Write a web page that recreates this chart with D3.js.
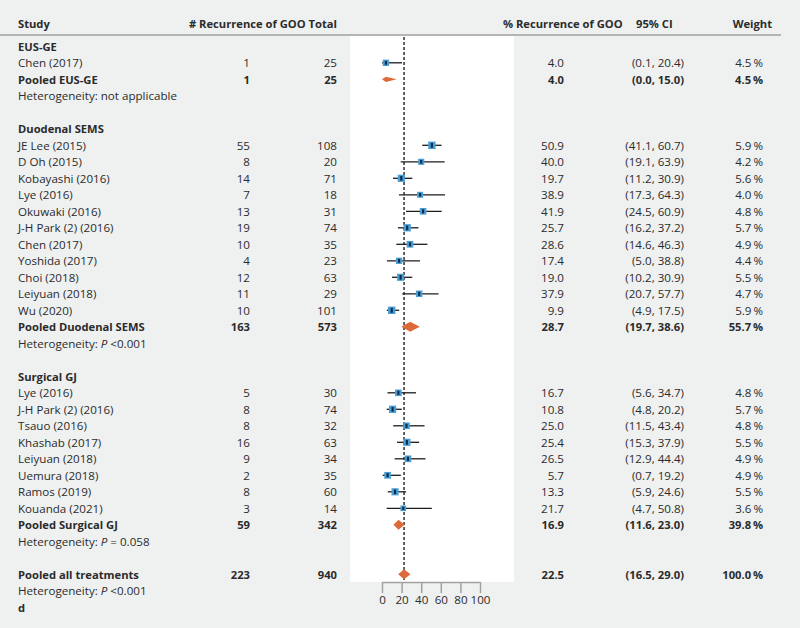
<!DOCTYPE html>
<html><head><meta charset="utf-8">
<script src="https://cdn.jsdelivr.net/npm/d3@7"></script>
<style>
html,body{margin:0;padding:0;background:#eff1f1;}
svg{display:block;font-family:"Open Sans",sans-serif;}
</style></head>
<body>
<svg id="chart" width="800" height="628"></svg>
<script>
// ---- data ----
const groupNames = ["EUS-GE", "Duodenal SEMS", "Surgical GJ"];
const studyNames = [
  ["Chen (2017)"],
  ["JE Lee (2015)","D Oh (2015)","Kobayashi (2016)","Lye (2016)","Okuwaki (2016)","J-H Park (2) (2016)","Chen (2017)","Yoshida (2017)","Choi (2018)","Leiyuan (2018)","Wu (2020)"],
  ["Lye (2016)","J-H Park (2) (2016)","Tsauo (2016)","Khashab (2017)","Leiyuan (2018)","Uemura (2018)","Ramos (2019)","Kouanda (2021)"]
];
const studyEvents = [[1],[55,8,14,7,13,19,10,4,12,11,10],[5,8,8,16,9,2,8,3]];
const studyTotals = [[25],[108,20,71,18,31,74,35,23,63,29,101],[30,74,32,63,34,35,60,14]];
const studyEst = [[4.0],[50.9,40.0,19.7,38.9,41.9,25.7,28.6,17.4,19.0,37.9,9.9],[16.7,10.8,25.0,25.4,26.5,5.7,13.3,21.7]];
const studyLow = [[0.1],[41.1,19.1,11.2,17.3,24.5,16.2,14.6,5.0,10.2,20.7,4.9],[5.6,4.8,11.5,15.3,12.9,0.7,5.9,4.7]];
const studyHigh = [[20.4],[60.7,63.9,30.9,64.3,60.9,37.2,46.3,38.8,30.9,57.7,17.5],[34.7,20.2,43.4,37.9,44.4,19.2,24.6,50.8]];
const studyWeight = [[4.5],[5.9,4.2,5.6,4.0,4.8,5.7,4.9,4.4,5.5,4.7,5.9],[4.8,5.7,4.8,5.5,4.9,4.9,5.5,3.6]];

const pooledEvents = [1, 163, 59];
const pooledTotals = [25, 573, 342];
const pooledEst = [4.0, 28.7, 16.9];
const pooledLow = [0.0, 19.7, 11.6];
const pooledHigh = [15.0, 38.6, 23.0];
const pooledWeight = [4.5, 55.7, 39.8];
const heterogeneityP = [null, "<0.001", "= 0.058"];

const overallEvents = 223, overallTotal = 940, overallEst = 22.5, overallLow = 16.5, overallHigh = 29.0, overallWeight = 100.0, overallP = "<0.001";
const xTicks = [0, 20, 40, 60, 80, 100];
const headers = ["Study", "# Recurrence of GOO Total", "% Recurrence of GOO", "95% CI", "Weight"];

// ---- build rows ----
const rows = [];
groupNames.forEach((g, gi) => {
  rows.push({type: "group", label: g});
  studyNames[gi].forEach((s, si) => rows.push({type: "study", label: s, ev: studyEvents[gi][si], n: studyTotals[gi][si],
    est: studyEst[gi][si], lo: studyLow[gi][si], hi: studyHigh[gi][si], w: studyWeight[gi][si]}));
  rows.push({type: "pooled", label: "Pooled " + g, ev: pooledEvents[gi], n: pooledTotals[gi], est: pooledEst[gi],
    lo: pooledLow[gi], hi: pooledHigh[gi], w: pooledWeight[gi]});
  rows.push({type: "het", p: heterogeneityP[gi]});
  rows.push({type: "blank"});
});
rows.push({type: "pooled", label: "Pooled all treatments", ev: overallEvents, n: overallTotal, est: overallEst, lo: overallLow, hi: overallHigh, w: overallWeight, overall: true});
rows.push({type: "het", p: overallP});
rows.push({type: "letter", label: "d"});

const svg = d3.select("#chart");
const x = d3.scaleLinear().domain([0, 100]).range([382, 480]);
const y = d3.scaleLinear().domain([0, rows.length - 1]).range([46.3, 46.3 + 16.5 * (rows.length - 1)]);

const textCol = "#2b2b2b";
const fs = "11.6px";
const fsBold = "11.2px";

// white plot panel
svg.append("rect").attr("x", 350).attr("y", 36).attr("width", 164).attr("height", 546).attr("fill", "#ffffff");

// header line
svg.append("line").attr("x1", 0).attr("x2", 781).attr("y1", 35).attr("y2", 35).attr("stroke", "#b4b6b6").attr("stroke-width", 2);

// headers
const hdr = svg.append("g").attr("font-weight", "bold").attr("font-size", fsBold).attr("fill", textCol);
hdr.append("text").attr("x", 18).attr("y", 28).text(headers[0]);
hdr.append("text").attr("x", 337).attr("y", 28).attr("text-anchor", "end").text(headers[1]);
hdr.append("text").attr("x", 503).attr("y", 28).text(headers[2]);
hdr.append("text").attr("x", 636).attr("y", 28).text(headers[3]);
hdr.append("text").attr("x", 772).attr("y", 28).attr("text-anchor", "end").text(headers[4]);

// reference line at overall estimate
svg.append("line").attr("x1", x(overallEst)).attr("x2", x(overallEst)).attr("y1", 37).attr("y2", 582)
  .attr("stroke", "#111").attr("stroke-width", 1.3).attr("stroke-dasharray", "3,2");

const fmt = d3.format(".1f");
rows.forEach((r, i) => {
  const yc = y(i), yb = yc + 4.2;
  const bold = r.type === "group" || r.type === "pooled" || r.type === "letter";
  const g = svg.append("g").attr("font-size", bold ? fsBold : fs).attr("fill", textCol).attr("font-weight", bold ? "bold" : "normal");
  if (r.type === "group" || r.type === "letter") {
    g.append("text").attr("x", 18).attr("y", yb).text(r.label);
  } else if (r.type === "het") {
    const t = g.append("text").attr("x", 18).attr("y", yb);
    if (r.p === null) t.text("Heterogeneity: not applicable");
    else {
      t.append("tspan").text("Heterogeneity: ");
      t.append("tspan").attr("font-style", "italic").text("P");
      t.append("tspan").text(" " + r.p);
    }
  } else if (r.type === "study" || r.type === "pooled") {
    g.append("text").attr("x", 18).attr("y", yb).text(r.label);
    g.append("text").attr("x", 250).attr("y", yb).attr("text-anchor", "end").text(r.ev);
    g.append("text").attr("x", 337).attr("y", yb).attr("text-anchor", "end").text(r.n);
    g.append("text").attr("x", 564).attr("y", yb).attr("text-anchor", "end").text(fmt(r.est));
    g.append("text").attr("x", 684).attr("y", yb).attr("text-anchor", "end").text("(" + fmt(r.lo) + ", " + fmt(r.hi) + ")");
    g.append("text").attr("x", 763).attr("y", yb).attr("text-anchor", "end").text(fmt(r.w) + "\u2009%");
    if (r.type === "study") {
      svg.append("line").attr("x1", x(r.lo)).attr("x2", x(r.hi)).attr("y1", yc).attr("y2", yc)
        .attr("stroke", "#1c1c1c").attr("stroke-width", 1.3);
      const s = 3 + r.w * 0.75;
      svg.append("rect").attr("x", x(r.est) - s / 2).attr("y", yc - s / 2).attr("width", s).attr("height", s)
        .attr("fill", "#4a9fd2");
      svg.append("line").attr("x1", x(r.est)).attr("x2", x(r.est)).attr("y1", yc - s / 2 + 1.2).attr("y2", yc + s / 2 - 1.2)
        .attr("stroke", "#0d2d55").attr("stroke-width", 2.2);
    } else {
      const hh = r.w < 10 ? 2.6 : 5;
      const pts = [[x(r.lo), yc], [x(r.est), yc - hh], [x(r.hi), yc], [x(r.est), yc + hh]];
      svg.append("path").attr("d", d3.line()(pts) + "Z").attr("fill", "#dd6a3a");
    }
  }
});

// axis
const axisY = 582;
const ax = svg.append("g").attr("transform", `translate(0,${axisY})`)
  .call(d3.axisBottom(x).tickValues(xTicks).tickSize(11).tickPadding(3).tickSizeOuter(0));
ax.select(".domain").attr("stroke", "#a0a2a2").attr("stroke-width", 1.5);
ax.selectAll(".tick line").attr("stroke", "#a0a2a2").attr("stroke-width", 1.5);
ax.selectAll(".tick text").attr("fill", textCol).attr("font-size", fs).attr("font-family", "Open Sans, sans-serif");
</script>
</body></html>
